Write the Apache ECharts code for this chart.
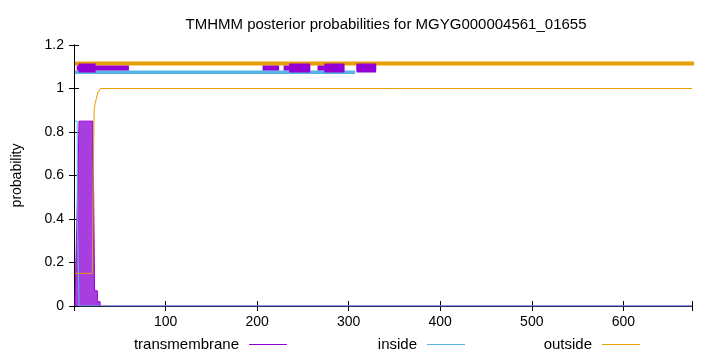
<!DOCTYPE html>
<html><head><meta charset="utf-8">
<script src="https://cdn.jsdelivr.net/npm/echarts@6/dist/echarts.min.js"></script>
<style>html,body{margin:0;padding:0;background:#fff}#c{width:720px;height:352px}</style>
</head><body><div id="c"></div>
<script>
// ---- data (residue, probability) ----
const titleText = 'TMHMM posterior probabilities for MGYG000004561_01655';
const seqLength = 675;
const xTicks = [100, 200, 300, 400, 500, 600];
const yTicks = [0, 0.2, 0.4, 0.6, 0.8, 1, 1.2];
const transmembrane = [[1,0],[2,0],[3,0],[4,0.46],[5,0.46],[6,0.85],[7,0.85],[8,0.85],[9,0.85],[10,0.85],[11,0.85],[12,0.85],[13,0.85],[14,0.85],[15,0.85],[16,0.85],[17,0.85],[18,0.85],[19,0.85],[20,0.85],[21,0.74],[22,0.5],[23,0.07],[24,0.07],[25,0.07],[26,0.02],[27,0.02],[28,0.02],[29,0],[675,0]];
const inside = [[1,0.85],[3.5,0.85],[3.6,0.39],[5.5,0.39],[5.6,0],[675,0]];
const outside = [[1,0.15],[20,0.15],[21,0.6],[22,0.9],[23,0.93],[25,0.93],[26,0.98],[28,0.98],[29,1],[675,1]];
// predicted topology bars on top
const topOutside = [[1, 710]];
const topInside = [[1, 307]];
const topTMThin = [[3,60],[206,224],[229,258],[266,295],[308.5,330]];
const topTMThick = [[5,23.6],[235,258],[273.5,295.5],[308.5,330]];
const levelOutside = 1.115, levelInside = 1.075, levelTM = 1.094;

const PURPLE = '#9400d3', BLUE = '#56b4e9', ORANGE = '#e69f00';
const FONT = 'Liberation Sans';

const series = [];
function seg(list, level, color, width, clip) {
  list.forEach(([a, b]) => series.push({
    type: 'line', data: [[a, level], [b, level]], symbol: 'none', clip: clip,
    lineStyle: { color: color, width: width, cap: 'butt' }, silent: true, z: 5
  }));
}
seg(topOutside, levelOutside, ORANGE, 4, false);
seg(topInside, levelInside, BLUE, 3.5, true);
seg(topTMThin, levelTM, PURPLE, 5, true);
seg(topTMThick, levelTM, PURPLE, 9, true);

series.push({
  name: 'transmembrane', type: 'line', data: transmembrane, step: 'middle', symbol: 'none',
  lineStyle: { color: PURPLE, width: 1 }, itemStyle: { color: PURPLE },
  areaStyle: { color: '#a93ee0', opacity: 1 }, z: 3
});
series.push({
  name: 'inside', type: 'line', data: inside, symbol: 'none',
  lineStyle: { color: BLUE, width: 1 }, itemStyle: { color: BLUE }, z: 4
});
series.push({
  name: 'outside', type: 'line', data: outside, symbol: 'none',
  lineStyle: { color: ORANGE, width: 1 }, itemStyle: { color: ORANGE }, z: 4
});

function legend(name, color, right) {
  return {
    data: [{ name: name, itemStyle: { color: color } }], right: right, top: 332, align: 'right',
    icon: 'rect', itemWidth: 38, itemHeight: 1, itemGap: 0,
    textStyle: { fontFamily: FONT, fontSize: 15, color: '#000', padding: [0, 5, 0, 0] },
    selectedMode: false
  };
}

const chart = echarts.init(document.getElementById('c'), null, { renderer: 'canvas' });
chart.setOption({
  animation: false,
  backgroundColor: '#fff',
  title: { text: titleText, left: 381, textAlign: 'center', top: 12,
    textStyle: { fontFamily: FONT, fontSize: 15, fontWeight: 'normal', color: '#000' } },
  legend: [legend('transmembrane', PURPLE, 428), legend('inside', BLUE, 250), legend('outside', ORANGE, 75)],
  grid: { left: 74, right: 28, top: 45, bottom: 46, show: false },
  xAxis: [{
    type: 'value', min: 0, max: seqLength, interval: 100, position: 'bottom',
    axisLine: { show: true, lineStyle: { color: '#000', width: 1 } },
    axisTick: { show: true, inside: true, length: 5, lineStyle: { color: '#000' } },
    axisLabel: { fontFamily: FONT, fontSize: 14, color: '#000', margin: 9,
      formatter: v => xTicks.includes(v) ? String(v) : '' },
    splitLine: { show: false }
  }, {
    type: 'value', min: 0, max: seqLength, interval: 100, position: 'top',
    axisLine: { show: true, lineStyle: { color: '#000', width: 1 } },
    axisTick: { show: true, inside: true, length: 5, lineStyle: { color: '#000' } },
    axisLabel: { show: false }, splitLine: { show: false }
  }],
  yAxis: [{
    type: 'value', min: 0, max: 1.2, interval: 0.2, position: 'left',
    name: 'probability', nameLocation: 'middle', nameGap: 50, nameRotate: 90,
    nameTextStyle: { fontFamily: FONT, fontSize: 14, color: '#000' },
    axisLine: { show: true, lineStyle: { color: '#000', width: 1 } },
    axisTick: { show: true, inside: true, length: 5, lineStyle: { color: '#000' } },
    axisLabel: { fontFamily: FONT, fontSize: 14, color: '#000', margin: 10,
      formatter: v => { const t = yTicks.find(k => Math.abs(k - v) < 1e-6); return t === undefined ? '' : String(t); } },
    splitLine: { show: false }
  }, {
    type: 'value', min: 0, max: 1.2, interval: 0.2, position: 'right',
    axisLine: { show: true, lineStyle: { color: '#000', width: 1 } },
    axisTick: { show: true, inside: true, length: 5, lineStyle: { color: '#000' } },
    axisLabel: { show: false }, splitLine: { show: false }
  }],
  series: series
});
</script></body></html>
